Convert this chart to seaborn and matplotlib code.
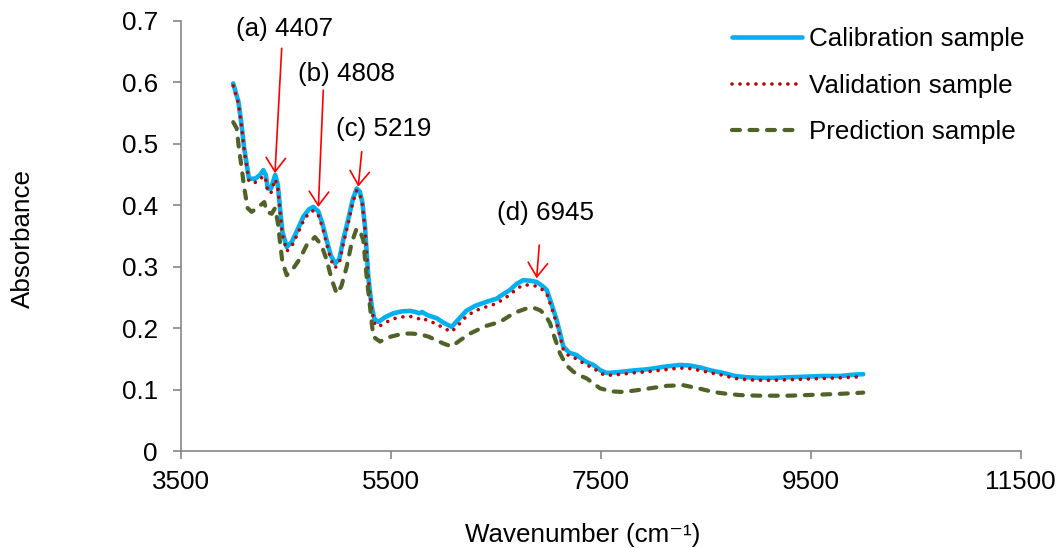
import seaborn as sns
import pandas as pd
from matplotlib import pyplot as plt

# wavenumber grid shared by calibration / validation spectra
cal_wn = [4000, 4050, 4080, 4105, 4130, 4150, 4210, 4255, 4287, 4310, 4330, 4360, 4400, 4425,
          4446, 4468, 4510, 4557, 4605, 4668, 4720, 4763, 4810, 4850, 4890, 4930, 4970, 5010,
          5050, 5100, 5140, 5176, 5205, 5230, 5255, 5287, 5319, 5345, 5382, 5450, 5525, 5600,
          5684, 5740, 5770, 5800, 5850, 5938, 6000, 6081, 6150, 6220, 6303, 6400, 6510, 6570,
          6636, 6700, 6763, 6830, 6890, 6940, 6986, 7030, 7081, 7144, 7200, 7271, 7350, 7430,
          7500, 7557, 7650, 7811, 7950, 8100, 8255, 8350, 8446, 8550, 8668, 8780, 8891, 9000,
          9144, 9300, 9462, 9620, 9779, 9900, 10000]
cal_abs = [0.598, 0.568, 0.530, 0.492, 0.465, 0.443, 0.443, 0.449, 0.457, 0.449, 0.427, 0.427,
           0.449, 0.433, 0.395, 0.357, 0.332, 0.340, 0.357, 0.381, 0.393, 0.397, 0.390, 0.370,
           0.343, 0.318, 0.305, 0.312, 0.345, 0.380, 0.410, 0.427, 0.422, 0.405, 0.365, 0.283,
           0.235, 0.215, 0.210, 0.218, 0.224, 0.227, 0.228, 0.226, 0.224, 0.226, 0.221, 0.216,
           0.209, 0.202, 0.215, 0.228, 0.236, 0.242, 0.248, 0.255, 0.262, 0.272, 0.278, 0.277,
           0.275, 0.269, 0.262, 0.240, 0.213, 0.170, 0.160, 0.156, 0.146, 0.140, 0.131, 0.127,
           0.128, 0.131, 0.133, 0.137, 0.140, 0.139, 0.136, 0.131, 0.127, 0.122, 0.120, 0.119,
           0.119, 0.120, 0.121, 0.122, 0.122, 0.124, 0.125]
val_abs = [0.594, 0.565, 0.527, 0.489, 0.461, 0.438, 0.437, 0.441, 0.448, 0.441, 0.421, 0.420,
           0.442, 0.428, 0.390, 0.352, 0.325, 0.333, 0.350, 0.374, 0.387, 0.391, 0.384, 0.364,
           0.337, 0.311, 0.298, 0.305, 0.338, 0.374, 0.405, 0.424, 0.419, 0.401, 0.361, 0.279,
           0.230, 0.208, 0.202, 0.209, 0.215, 0.218, 0.219, 0.217, 0.215, 0.217, 0.212, 0.207,
           0.200, 0.194, 0.206, 0.219, 0.228, 0.234, 0.240, 0.247, 0.254, 0.264, 0.270, 0.270,
           0.268, 0.263, 0.256, 0.234, 0.207, 0.165, 0.154, 0.150, 0.141, 0.135, 0.126, 0.123,
           0.124, 0.127, 0.129, 0.132, 0.135, 0.134, 0.131, 0.127, 0.123, 0.118, 0.116, 0.115,
           0.115, 0.116, 0.117, 0.118, 0.119, 0.120, 0.121]

pred_wn = [4000, 4033, 4055, 4081, 4106, 4138, 4176, 4239, 4296, 4319, 4367, 4398, 4424, 4446,
           4468, 4510, 4572, 4636, 4700, 4779, 4840, 4890, 4940, 4986, 5030, 5081, 5130, 5176,
           5210, 5239, 5271, 5303, 5334, 5398, 5500, 5620, 5700, 5779, 5860, 5938, 6000, 6081,
           6160, 6255, 6400, 6541, 6680, 6795, 6860, 6922, 6970, 7017, 7060, 7112, 7170, 7239,
           7300, 7367, 7493, 7600, 7715, 7850, 7969, 8130, 8287, 8430, 8573, 8700, 8827, 9000,
           9144, 9300, 9462, 9620, 9779, 9900, 10000]
pred_abs = [0.535, 0.525, 0.492, 0.460, 0.427, 0.395, 0.389, 0.397, 0.405, 0.389, 0.386, 0.395,
            0.373, 0.340, 0.308, 0.286, 0.297, 0.313, 0.335, 0.348, 0.335, 0.311, 0.278, 0.256,
            0.268, 0.300, 0.340, 0.362, 0.357, 0.343, 0.283, 0.235, 0.186, 0.178, 0.186, 0.191,
            0.191, 0.190, 0.186, 0.180, 0.175, 0.170, 0.180, 0.191, 0.203, 0.210, 0.225, 0.232,
            0.233, 0.229, 0.222, 0.208, 0.185, 0.159, 0.140, 0.129, 0.123, 0.118, 0.102, 0.097,
            0.096, 0.099, 0.102, 0.106, 0.107, 0.102, 0.096, 0.093, 0.091, 0.090, 0.090, 0.090,
            0.091, 0.092, 0.093, 0.094, 0.095]

series_names = ["Calibration sample", "Validation sample", "Prediction sample"]

# peak annotations: label, text position, arrow start, arrow tip
peak_labels = ["(a) 4407", "(b) 4808", "(c) 5219", "(d) 6945"]
peak_text_xy = [(4489, 0.687), (5079, 0.614), (5431, 0.524), (6971, 0.387)]
peak_arrow_from = [(4462, 0.655), (4858, 0.587), (5224, 0.487), (6915, 0.335)]
peak_arrow_to = [(4398, 0.452), (4811, 0.397), (5191, 0.430), (6890, 0.281)]

x_ticks = [3500, 5500, 7500, 9500, 11500]
y_ticks = [0, 0.1, 0.2, 0.3, 0.4, 0.5, 0.6, 0.7]
y_tick_labels = ["0", "0.1", "0.2", "0.3", "0.4", "0.5", "0.6", "0.7"]

sns.set_theme(style="white")
plt.rcParams['font.family'] = ['Liberation Sans', 'DejaVu Sans']
plt.rcParams['text.color'] = 'black'
plt.rcParams['axes.labelcolor'] = 'black'
FS = 18.7
GREY = '#868686'

fig = plt.figure(figsize=(10.6, 5.48), dpi=100)
ax = fig.add_axes([0.17047, 0.1770, 0.79245, 0.7852])

cal_df = pd.DataFrame({'wn': cal_wn, 'cal': cal_abs, 'val': val_abs})
pred_df = pd.DataFrame({'wn': pred_wn, 'pred': pred_abs})

sns.lineplot(data=cal_df, x='wn', y='cal', ax=ax, color='#00B0F0', linewidth=3.3,
             label=series_names[0], solid_capstyle='round', solid_joinstyle='round')
sns.lineplot(data=cal_df, x='wn', y='val', ax=ax, color='#C00000', linewidth=2.6,
             linestyle=(0, (0.01, 2.2)), dash_capstyle='round', label=series_names[1])
sns.lineplot(data=pred_df, x='wn', y='pred', ax=ax, color='#4F6228', linewidth=3.0,
             linestyle=(0, (1.9, 2.3)), dash_capstyle='round', label=series_names[2])

for lab, txy, a0, a1 in zip(peak_labels, peak_text_xy, peak_arrow_from, peak_arrow_to):
    ax.text(txy[0], txy[1], lab, ha='center', va='center', fontsize=FS, color='black')
    ax.annotate('', xy=a1, xytext=a0,
                arrowprops=dict(arrowstyle='->,head_length=0.5,head_width=0.35',
                                color='red', lw=1.2, mutation_scale=20,
                                shrinkA=0, shrinkB=0))

ax.set_xlim(3500, 11500)
ax.set_ylim(0, 0.7)
ax.set_xticks(x_ticks)
ax.set_xticklabels([str(t) for t in x_ticks])
ax.set_yticks(y_ticks)
ax.set_yticklabels(y_tick_labels)

for side in ['top', 'right']:
    ax.spines[side].set_visible(False)
for side in ['left', 'bottom']:
    ax.spines[side].set_color(GREY)
    ax.spines[side].set_linewidth(1.2)

ax.tick_params(axis='x', direction='out', length=5.5, width=1.2, color=GREY,
               labelcolor='black', labelsize=FS, pad=8.5, bottom=True)
ax.tick_params(axis='y', direction='out', length=5.5, width=1.2, color=GREY,
               labelcolor='black', labelsize=FS, pad=11, left=True)

ax.set_xlabel('Wavenumber (cm\u207b\u00b9)', fontsize=FS, va='baseline')
ax.xaxis.set_label_coords(0.479, -0.2115)
ax.set_ylabel('Absorbance', fontsize=FS, va='center')
ax.yaxis.set_label_coords(-0.1877, 0.495)

ax.legend(loc='upper left', bbox_to_anchor=(0.656, 0.985), frameon=False, fontsize=FS,
          handlelength=2.72, handletextpad=0.25, labelspacing=0.87,
          borderpad=0, borderaxespad=0)

fig.savefig('out.png', dpi=100)
